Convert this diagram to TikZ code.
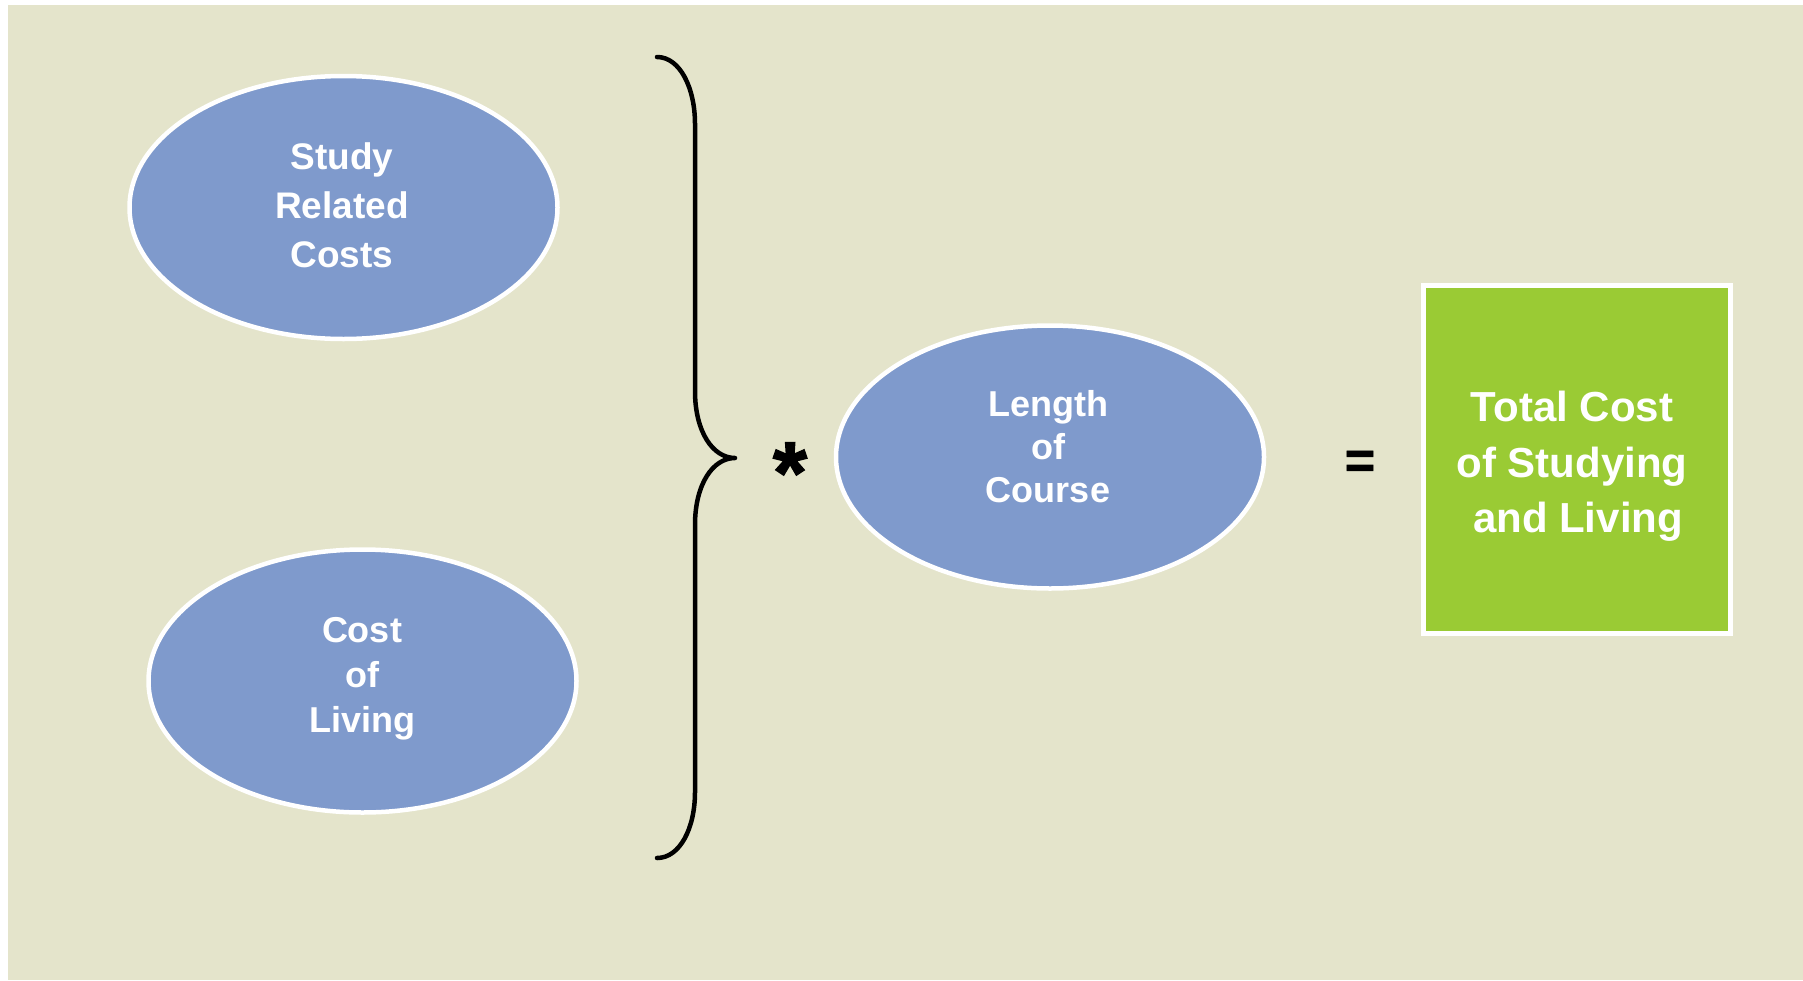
\documentclass[tikz,border=0pt]{standalone}
\usepackage{fontspec}
\setmainfont{Liberation Sans}
\newfontfamily\heavysans[FakeBold=1.5]{Liberation Sans Bold}
\usetikzlibrary{shapes.geometric}
\definecolor{panelbg}{RGB}{228,228,203}
\definecolor{ovalblue}{RGB}{127,154,204}
\definecolor{totalgreen}{RGB}{154,203,52}
\tikzset{
  oval/.style={ellipse, fill=ovalblue, draw=white, line width=4.5pt,
    minimum width=428pt, minimum height=263pt, inner sep=0pt},
  ovaltext/.style={text=white, font=\bfseries, align=center, inner sep=0pt},
  totalbox/.style={rectangle, fill=totalgreen, draw=white, line width=5pt,
    minimum width=307.5pt, minimum height=348pt, inner sep=0pt},
  bracket/.style={draw=black, line width=4.5pt, line cap=round, line join=round},
  opsign/.style={text=black, inner sep=0pt, anchor=base}
}
\begin{document}
\begin{tikzpicture}[x=1pt, y=-1pt]
  % canvas and panel
  \useasboundingbox[fill=white] (0,0) rectangle (1803,980);
  \fill[panelbg] (8,5) rectangle (1803,980);

  % the three ovals
  \node[oval] (study)  at (343.5,207.5) {};
  \node[oval] (living) at (362.5,681) {};
  \node[oval] (length) at (1050,457) {};

  \node[ovaltext, font=\bfseries\fontsize{37}{49}\selectfont] (studytxt) at (342,205.5)
    {Study\\Related\\Costs};
  \node[ovaltext, font=\bfseries\fontsize{36}{45}\selectfont] (livingtxt) at (362,679)
    {Cost\\of\\Living};
  \node[ovaltext, font=\bfseries\fontsize{36}{43}\selectfont] (lengthtxt) at (1048,446.5)
    {Length\\of\\Course};

  % result box
  \node[totalbox] (total) at (1577,459.5) {};
  \node[ovaltext, font=\bfseries\fontsize{42}{55.5}\selectfont] (totaltxt) at (1572,466.5)
    {Total Cost\\of Studying\\\hspace*{12pt}and Living};

  % curly bracket joining the two left ovals
  \coordinate (brtop) at (657,57);
  \coordinate (brtip) at (735,458);
  \coordinate (brbot) at (657,858);
  \draw[bracket] (brtop) .. controls (680,57) and (695,88) .. (695,124)
    -- (695,391) .. controls (695,432) and (713,458) .. (brtip)
    .. controls (713,458) and (695,484) .. (695,525)
    -- (695,792) .. controls (695,828) and (680,858) .. (brbot);

  % operators
  \node[opsign, font=\heavysans\fontsize{88}{88}\selectfont] (times) at (790,503) {*};
  \node[opsign, font=\heavysans\fontsize{52}{52}\selectfont] (equals) at (1360,478) {=};
\end{tikzpicture}
\end{document}
